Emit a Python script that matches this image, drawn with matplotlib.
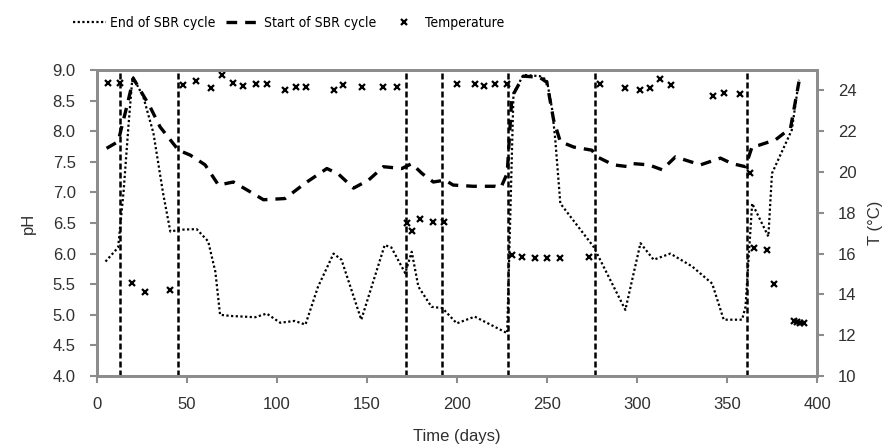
import matplotlib
matplotlib.use('Agg')
import matplotlib.pyplot as plt
from matplotlib.lines import Line2D

# Fonts
plt.rcParams['font.family'] = ['Liberation Sans', 'DejaVu Sans']
plt.rcParams['font.size'] = 12

# End of SBR cycle pH
end_day = [5, 12, 15, 17.7, 20, 26, 31.6, 37, 41, 46, 55.6, 62, 66, 68.6, 75, 82, 88,
           94.5, 102, 110, 116, 123, 131.6, 136, 147, 160, 163.7, 171.4, 175, 178.7,
           186, 192, 200, 210, 228, 231.5, 237, 246, 250, 253, 254.7, 257.5, 276,
           293.6, 302, 309.3, 318.6, 330.7, 341.8, 348.2, 358.4, 360.3, 364, 373, 375,
           386, 390]
end_ph = [5.87, 6.1, 7.0, 8.07, 8.9, 8.56, 7.97, 6.98, 6.36, 6.39, 6.4, 6.2, 5.7, 5.0,
          4.98, 4.97, 4.96, 5.02, 4.87, 4.9, 4.84, 5.46, 6.0, 5.9, 4.92, 6.14, 6.1, 5.68,
          6.03, 5.46, 5.13, 5.11, 4.86, 4.97, 4.70, 8.62, 8.92, 8.9, 8.84, 8.35, 7.86,
          6.82, 6.11, 5.08, 6.17, 5.9, 6.0, 5.79, 5.51, 4.92, 4.92, 5.13, 6.82, 6.28,
          7.31, 8.02, 8.84]

# Start of SBR cycle pH
start_day = [5.6, 12, 14, 16.8, 20.5, 29.7, 35.3, 45.5, 52, 60.3, 67.7, 76, 85.3, 92.7,
             104.7, 115.8, 127.9, 134.3, 142.7, 151, 159.3, 169.5, 175, 180.7, 187,
             193.6, 198, 209, 221.4, 224.5, 228, 230.6, 237, 246, 250, 253.8, 257.5,
             265, 275, 278, 287, 295.3, 298, 306.6, 314, 321.4, 335.3, 346.4, 352.9,
             360.3, 364, 367.7, 377, 385.3, 390]
start_ph = [7.72, 7.83, 8.07, 8.4, 8.86, 8.4, 8.07, 7.69, 7.61, 7.45, 7.12, 7.17, 7.01,
            6.88, 6.9, 7.15, 7.39, 7.3, 7.07, 7.2, 7.42, 7.39, 7.47, 7.31, 7.17, 7.2,
            7.12, 7.1, 7.1, 7.08, 7.31, 8.56, 8.9, 8.88, 8.8, 8.18, 7.83, 7.74, 7.69,
            7.58, 7.45, 7.42, 7.47, 7.45, 7.37, 7.58, 7.45, 7.56, 7.47, 7.42, 7.75,
            7.77, 7.86, 8.05, 8.81]

# Temperature
temp_day = [6.6, 13, 19.5, 27, 40.8, 48.2, 55.3, 63.4, 69.5, 76, 81.6, 88.4, 94.5,
            104.7, 110.6, 116.2, 131.6, 137, 147.3, 159.3, 166.8, 172.3, 175, 179.7,
            187, 192.7, 200, 210.3, 214.9, 221.4, 227.9, 230.6, 236.2, 243.6, 250,
            257.5, 273.2, 279.3, 293.6, 302, 307.5, 313, 319.2, 342, 348.2, 357.5, 363,
            365, 372.3, 376.4, 387, 388.9, 390.7, 392.6]
temp = [24.35, 24.35, 14.54, 14.13, 14.2, 24.26, 24.48, 24.1, 24.75, 24.35, 24.2, 24.3,
        24.3, 24.0, 24.15, 24.15, 24.0, 24.26, 24.15, 24.15, 24.15, 17.48, 17.12, 17.68,
        17.53, 17.56, 24.3, 24.3, 24.2, 24.3, 24.3, 15.93, 15.85, 15.77, 15.77, 15.77,
        15.85, 24.3, 24.1, 24.0, 24.1, 24.56, 24.26, 23.74, 23.86, 23.82, 19.94, 16.26,
        16.18, 14.5, 12.71, 12.65, 12.62, 12.6]

# Cycle changes (vertical lines)
change_days = [13, 45.5, 172, 192, 228.5, 277, 361]

fig = plt.figure(figsize=(8.88, 4.48), dpi=100)
ax = fig.add_axes([96.5/888, 72/448, (817-96.5)/888, (376-70)/448])
ax2 = ax.twinx()

for d in change_days:
    ax.axvline(d, color='black', lw=1.8, ls=(0, (2.4, 1.2)), zorder=1)

ax.plot(end_day, end_ph, color='black', lw=1.6, ls=(0, (1, 1.1)), zorder=3)
ax.plot(start_day, start_ph, color='black', lw=2.4, ls=(0, (3.2, 2.4)), zorder=3)
ax2.plot(temp_day, temp, ls='none', marker='x', ms=5, mew=1.6, color='black')

ax.set_xlim(0, 400)
ax.set_ylim(4.0, 9.0)
ax.set_xticks(range(0, 401, 50))
ax.set_yticks([4.0 + 0.5*i for i in range(11)])
ax.set_yticklabels(['%.1f' % (4.0 + 0.5*i) for i in range(11)])
ax2.set_ylim(10, 25)
ax2.set_yticks(range(10, 25, 2))

ax.set_xlabel('Time (days)', labelpad=12)
ax.set_ylabel('pH', labelpad=12)
ax2.set_ylabel('T (°C)', labelpad=8)

spine_col = '#8c8c8c'
for a in (ax, ax2):
    for s in a.spines.values():
        s.set_color(spine_col)
        s.set_linewidth(2)
    a.tick_params(colors='#303030', labelcolor='#303030', length=5, width=1.5,
                  color=spine_col, pad=10)
ax.xaxis.label.set_color('#303030')
ax.yaxis.label.set_color('#303030')
ax2.yaxis.label.set_color('#303030')

# Legend
handles = [Line2D([], [], color='black', lw=1.6, ls=(0, (1, 1.1))),
           Line2D([], [], color='black', lw=2.4, ls=(0, (3.2, 2.4))),
           Line2D([], [], ls='none', marker='x', ms=5, mew=1.6, color='black')]
labels = ['End of SBR cycle', 'Start of SBR cycle', 'Temperature']
fig.legend(handles, labels, loc='center left', bbox_to_anchor=(60/888, 1 - 23/448),
           ncol=3, frameon=False, handlelength=2.4, handletextpad=0.3,
           columnspacing=0.8,
           prop={'family': 'DejaVu Sans', 'stretch': 'condensed', 'size': 10})

fig.savefig('out.png', dpi=100)
